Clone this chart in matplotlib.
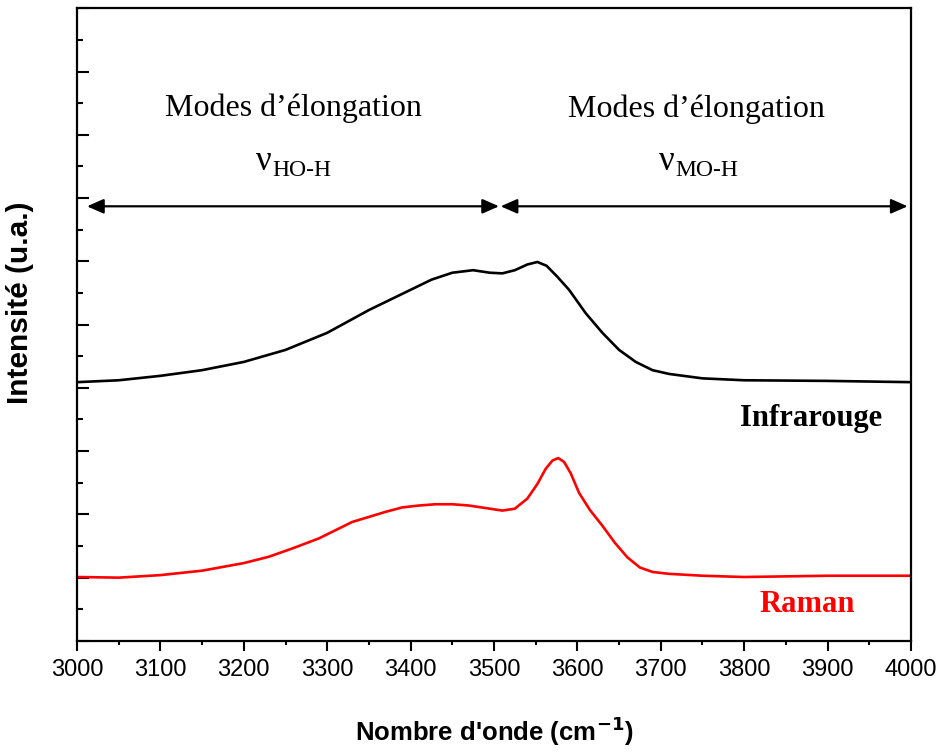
import matplotlib
matplotlib.use('Agg')
import matplotlib.pyplot as plt
from matplotlib.ticker import MultipleLocator

# wavenumbers (cm-1) and intensities (arbitrary units, offset spectra)
ir_x = [3000, 3050, 3100, 3150, 3200, 3250, 3300, 3350, 3400, 3425, 3450, 3475, 3495, 3510,
        3525, 3540, 3552, 3563, 3575, 3590, 3610, 3630, 3650, 3670, 3690, 3710, 3750, 3800,
        3900, 4000]
ir_y = [4.09, 4.12, 4.19, 4.28, 4.41, 4.60, 4.87, 5.23, 5.55, 5.71, 5.82, 5.86, 5.82, 5.81,
        5.86, 5.95, 5.99, 5.93, 5.77, 5.55, 5.18, 4.87, 4.60, 4.41, 4.28, 4.22, 4.15, 4.12,
        4.11, 4.09]

raman_x = [3000, 3050, 3100, 3150, 3200, 3230, 3260, 3290, 3310, 3330, 3350, 3370, 3390, 3410,
           3430, 3450, 3470, 3490, 3510, 3525, 3540, 3552, 3562, 3570, 3577, 3584, 3592, 3602,
           3615, 3630, 3645, 3660, 3675, 3690, 3710, 3750, 3800, 3850, 3900, 3950, 4000]
raman_y = [1.01, 1.00, 1.04, 1.11, 1.23, 1.33, 1.47, 1.62, 1.75, 1.88, 1.96, 2.04, 2.11, 2.14,
           2.16, 2.16, 2.14, 2.10, 2.06, 2.09, 2.25, 2.48, 2.72, 2.85, 2.89, 2.83, 2.65, 2.34,
           2.07, 1.82, 1.55, 1.32, 1.16, 1.09, 1.06, 1.03, 1.01, 1.02, 1.03, 1.03, 1.03]

# region limits for the stretching-mode arrows
hoh_range = [3012, 3506]
moh_range = [3508, 3996]

fig = plt.figure(figsize=(9.44, 7.54), dpi=100)
ax = fig.add_axes([0.0816, 0.150, 0.8834, 0.839])

ax.plot(ir_x, ir_y, color='black', lw=1.9)
ax.plot(raman_x, raman_y, color='red', lw=1.9)

ax.set_xlim(3000, 4000)
ax.set_ylim(0, 10)

ax.xaxis.set_major_locator(MultipleLocator(100))
ax.xaxis.set_minor_locator(MultipleLocator(50))
ax.yaxis.set_major_locator(MultipleLocator(1))
ax.yaxis.set_minor_locator(MultipleLocator(0.5))
ax.tick_params(axis='x', which='major', direction='out', length=7, width=1.5,
               labelsize=17, pad=6)
ax.tick_params(axis='x', which='minor', direction='out', length=3, width=1.5)
ax.tick_params(axis='y', which='major', direction='in', length=8.5, width=1.5, labelleft=False)
ax.tick_params(axis='y', which='minor', direction='in', length=4.3, width=1.5)
for lab in ax.get_xticklabels():
    lab.set_fontfamily('Liberation Sans')
for s in ax.spines.values():
    s.set_linewidth(1.6)

ax.set_xlabel("Nombre d'onde (cm$^{\\mathbf{-1}}$)", fontsize=18.5, fontweight='bold',
              family='Liberation Sans', labelpad=24)
ax.set_ylabel('Intensité (u.a.)', fontsize=21.5, fontweight='bold',
              family='Liberation Sans')
ax.yaxis.set_label_coords(-0.052, 0.535)

arrow = dict(arrowstyle='<|-|>,head_length=0.5,head_width=0.22', color='black',
             lw=1.6, shrinkA=0, shrinkB=0, mutation_scale=20)
ax.annotate('', xy=(hoh_range[0], 6.87), xytext=(hoh_range[1], 6.87), arrowprops=arrow)
ax.annotate('', xy=(moh_range[0], 6.87), xytext=(moh_range[1], 6.87), arrowprops=arrow)

serif = 'Liberation Serif'
ax.text(3260, 8.42, 'Modes d\u2019élongation', fontsize=23, family=serif, ha='center', va='center')
ax.text(3743, 8.40, 'Modes d\u2019élongation', fontsize=23, family=serif, ha='center', va='center')
# nu symbols with subscripts
ax.text(3234, 7.44, '\u03bd', fontsize=25, family=serif, ha='right', va='baseline')
ax.text(3234, 7.35, 'HO-H', fontsize=17, family=serif, ha='left', va='baseline')
ax.text(3717, 7.44, '\u03bd', fontsize=25, family=serif, ha='right', va='baseline')
ax.text(3717, 7.35, 'MO-H', fontsize=17, family=serif, ha='left', va='baseline')

ax.text(3880, 3.52, 'Infrarouge', fontsize=22, family=serif, fontweight='bold',
        ha='center', va='center')
ax.text(3875, 0.57, 'Raman', fontsize=22, family=serif, fontweight='bold', color='red',
        ha='center', va='center')

fig.savefig('out.png', dpi=100)
